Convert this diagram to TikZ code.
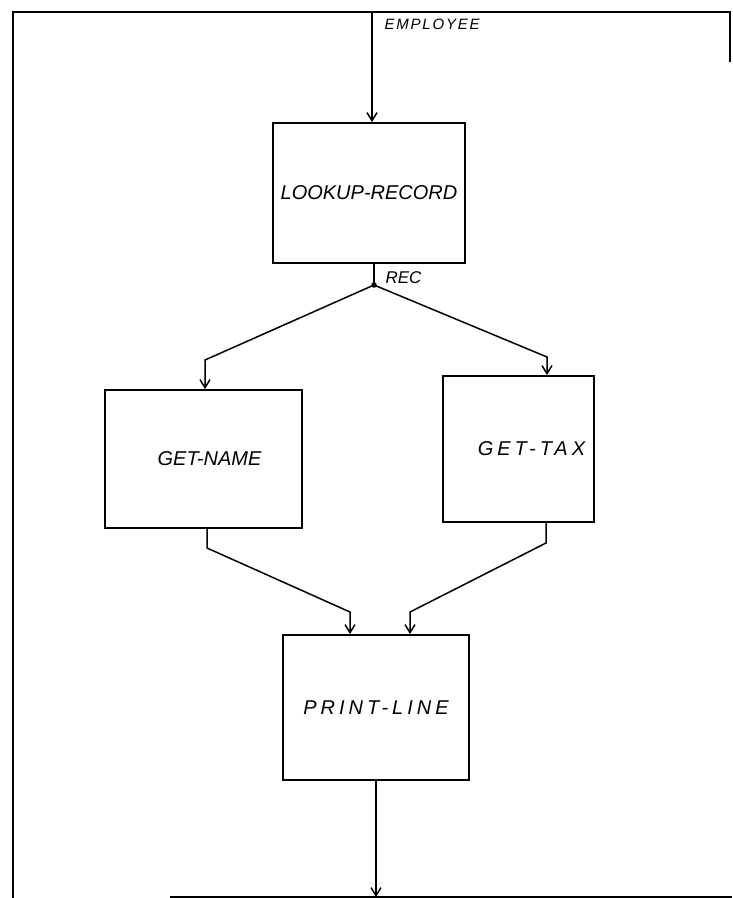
\documentclass[tikz,border=0pt]{standalone}
\usepackage{fontspec}
\setsansfont{Liberation Sans}
\usetikzlibrary{arrows.meta}

\begin{document}
\begin{tikzpicture}[x=1pt,y=-1pt]
\useasboundingbox (0,0) rectangle (732,898);

% frame
\draw[line width=1.6pt] (13,898) -- (13,12) -- (730,12) -- (730,62);
\draw[line width=1.4pt] (170,897) -- (732,897);

\begin{scope}[every node/.style={rectangle,draw,line width=2pt,
              font=\sffamily\itshape\fontsize{20}{24}\selectfont}]
    \node[minimum width=192pt,minimum height=140pt] (L) at (369,193)   {LOOKUP-RECORD};
    \node[minimum width=197pt,minimum height=138pt] (N) at (203.5,459) {\hspace*{12pt}GET-NAME};
    \node[minimum width=151pt,minimum height=146pt] (T) at (518.5,449)
        {\addfontfeatures{LetterSpace=20}\hspace*{26pt}GET-TAX};
    \node[minimum width=186pt,minimum height=145pt] (P) at (376,707.5)
        {\addfontfeatures{LetterSpace=20}PRINT-LINE};
\end{scope}

\coordinate (emp) at (372,12);
\coordinate (rec) at (374,285);
\coordinate (nb)  at (205,360);
\coordinate (tb)  at (547,357);
\coordinate (na)  at (207,548);
\coordinate (ta)  at (546,543);
\coordinate (pl)  at (350,612);
\coordinate (pr)  at (410,612);
\coordinate (out) at (376,897);

\node[anchor=west,font=\sffamily\itshape\fontsize{15}{18}\selectfont] (E) at (381,24)
    {\addfontfeatures{LetterSpace=12}EMPLOYEE};
\node[anchor=west,font=\sffamily\itshape\fontsize{17}{20}\selectfont] (R) at (382,278) {REC};

\begin{scope}[>={Straight Barb[length=8pt,width=10pt,line width=1.5pt]},
              line width=1.5pt]
    \draw [->] (emp) -- (emp |- L.north);
    \draw (rec |- L.south) -- (rec);
    \fill (rec) circle (2.8pt);
    \draw [->] (rec) -- (nb) -- (nb |- N.north);
    \draw [->] (rec) -- (tb) -- (tb |- T.north);
    \draw [->] (na |- N.south) -- (na) -- (pl) -- (pl |- P.north);
    \draw [->] (ta |- T.south) -- (ta) -- (pr) -- (pr |- P.north);
    \draw [->] (P.south -| out) -- (out);
\end{scope}
\end{tikzpicture}
\end{document}
